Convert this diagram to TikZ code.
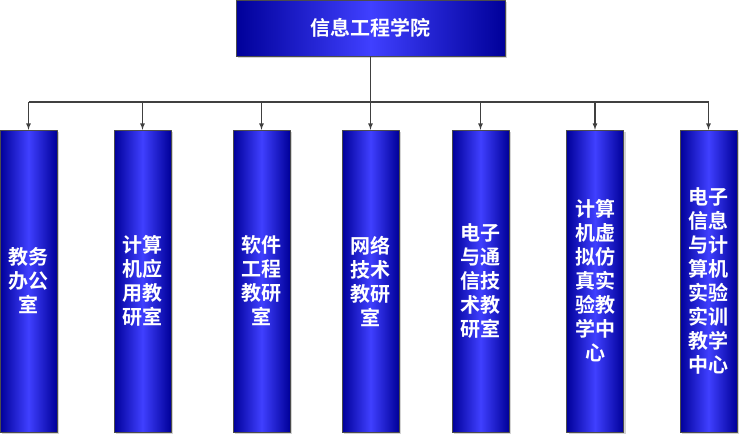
\documentclass[tikz,border=0pt]{standalone}
\usepackage{fontspec}
\newfontfamily\cjk{Noto Sans CJK SC Bold}
\usetikzlibrary{calc,shadows}
\tikzset{
  unitbox/.style={draw=black!70,thin,left color=blue!60!black,right color=blue!60!black,
    middle color=blue!75,shading angle=90,text=white,font=\cjk\fontsize{20}{24}\selectfont,
    align=center,inner sep=0pt,drop shadow={shadow xshift=2pt,shadow yshift=-2pt,opacity=0.35}},
  link/.style={draw=black!75,line width=1.2pt,-latex}
}
\begin{document}
\begin{tikzpicture}[x=1pt,y=-1pt,line join=round]
\useasboundingbox (0,0) rectangle (740,437);
\node[unitbox,minimum width=269,minimum height=56] (top) at (370.5,28) {信息工程学院};
\foreach \n/\x/\t in {u1/28.5/教务\\办公\\室,u2/142.5/计算\\机应\\用教\\研室,u3/261.5/软件\\工程\\教研\\室,u4/370.5/网络\\技术\\教研\\室,u5/480.5/电子\\与通\\信技\\术教\\研室,u6/595/计算\\机虚\\拟仿\\真实\\验教\\学中\\心,u7/708.5/电子\\信息\\与计\\算机\\实验\\实训\\教学\\中心}{
  \node[unitbox,minimum width=57,minimum height=302] (\n) at (\x,281) {\t};
}
\coordinate (hub) at (370.5,102);
\draw[draw=black!75,line width=1.2pt] (top.south) -- (hub) (u1.north |- hub) -- (u7.north |- hub);
\foreach \n in {u1,u2,u3,u4,u5,u6,u7}{\draw[link] (\n.north |- hub) -- (\n.north);}
\end{tikzpicture}
\end{document}
